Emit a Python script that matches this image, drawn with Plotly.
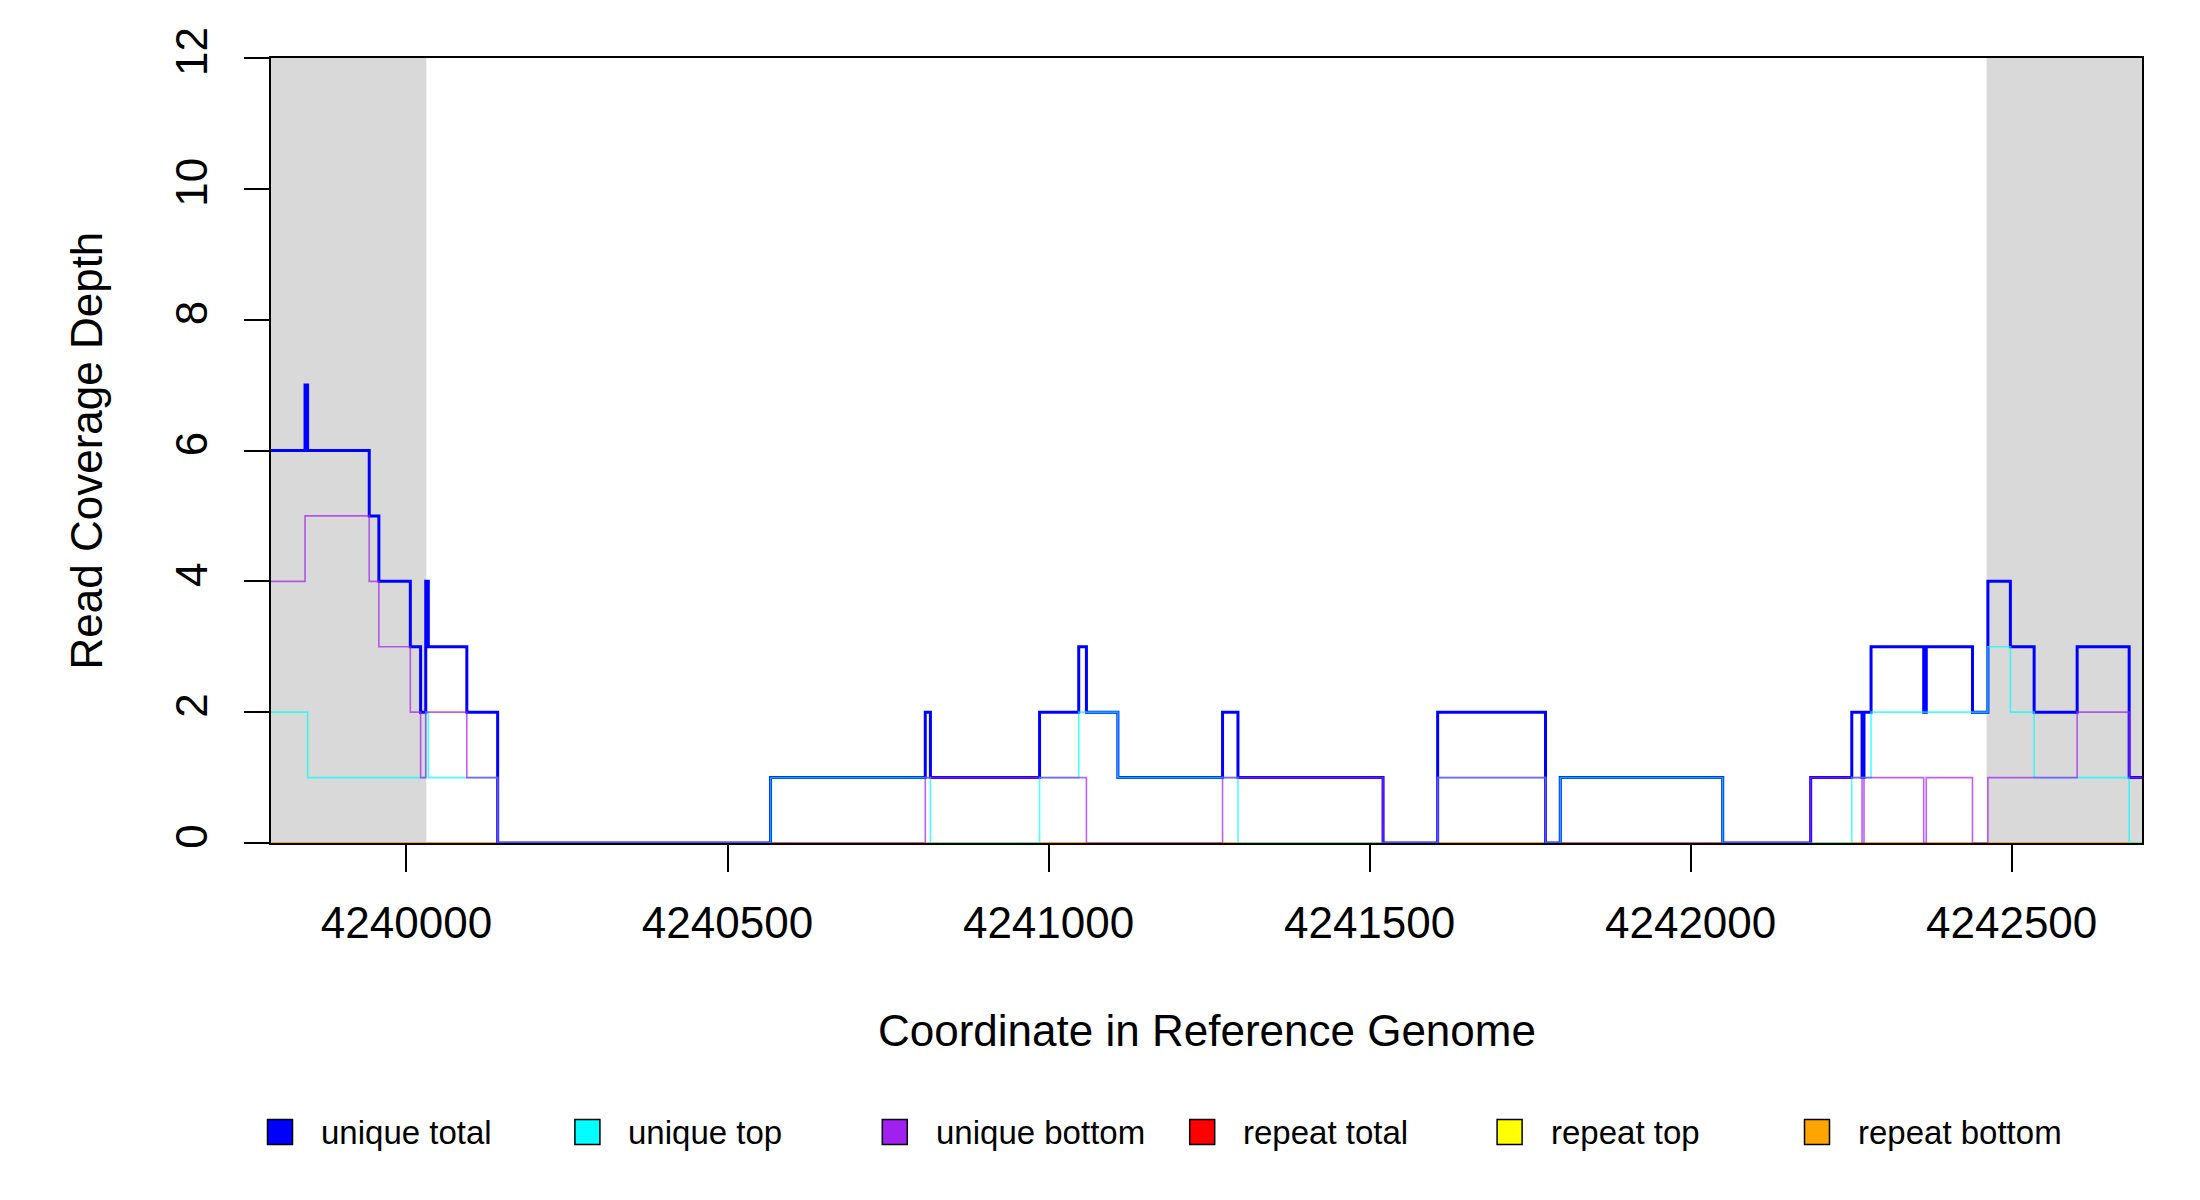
import plotly.graph_objects as go

# axis limits of the window (genome coordinates)
x_start = 4239789
x_end = 4242703

# flanking regions shaded grey
flank_left = [4239789, 4240031]
flank_right = [4242461, 4242703]

# step breakpoints (start of each step) and depth values
unique_total_x = [4239789, 4239842, 4239846, 4239942, 4239957, 4240006, 4240022,
                  4240030, 4240034, 4240094, 4240142, 4240567, 4240808, 4240816,
                  4240986, 4241047, 4241059, 4241108, 4241271, 4241295, 4241521,
                  4241606, 4241774, 4241797, 4242050, 4242187, 4242251, 4242267,
                  4242270, 4242281, 4242363, 4242367, 4242439, 4242463, 4242498,
                  4242535, 4242602, 4242683, 4242703]
unique_total_y = [6, 7, 6, 5, 4, 3, 2, 4, 3, 2, 0, 1, 2, 1, 2, 3, 2, 1, 2, 1, 0,
                  2, 0, 1, 0, 1, 2, 1, 2, 3, 2, 3, 2, 4, 3, 2, 3, 1, 1]

unique_top_x = [4239789, 4239846, 4240030, 4240034, 4240142, 4240567, 4240816,
                4240986, 4241047, 4241108, 4241295, 4241606, 4241774, 4241797,
                4242050, 4242251, 4242281, 4242463, 4242498, 4242535, 4242683,
                4242703]
unique_top_y = [2, 1, 2, 1, 0, 1, 0, 1, 2, 1, 0, 1, 0, 1, 0, 1, 2, 3, 2, 1, 0, 0]

unique_bottom_x = [4239789, 4239842, 4239942, 4239957, 4240006, 4240022, 4240030,
                   4240094, 4240142, 4240808, 4241059, 4241271, 4241521, 4241606,
                   4241774, 4242187, 4242267, 4242270, 4242363, 4242367, 4242439,
                   4242463, 4242602, 4242683, 4242703]
unique_bottom_y = [4, 5, 4, 3, 2, 1, 2, 1, 0, 1, 0, 1, 0, 1, 0, 1, 0, 1, 0, 1, 0,
                   1, 2, 1, 1]

repeat_total_x = [4239789, 4242703]
repeat_total_y = [0, 0]
repeat_top_x = [4239789, 4242703]
repeat_top_y = [0, 0]
repeat_bottom_x = [4239789, 4242703]
repeat_bottom_y = [0, 0]

x_ticks = [4240000, 4240500, 4241000, 4241500, 4242000, 4242500]
y_ticks = [0, 2, 4, 6, 8, 10, 12]

legend_labels = ["unique total", "unique top", "unique bottom",
                 "repeat total", "repeat top", "repeat bottom"]
legend_colors = ["#0000FF", "#00FFFF", "#A020F0", "#FF0000", "#FFFF00", "#FFA500"]

FONT = "Liberation Sans, Arial, sans-serif"

# the page body adds 8px on the top/left, so the figure is 8px smaller
PAD = 8
W, H = 2200 - PAD, 1200 - PAD
left, right, top, bottom = 271 - PAD, 58, 58 - PAD, 357
plot_w = W - left - right
plot_h = H - top - bottom


def px_x(p):
    # page pixel -> paper x
    return (p - PAD - left) / plot_w


def px_y(p):
    # page pixel -> paper y
    return (top + plot_h - (p - PAD)) / plot_h


fig = go.Figure()

# repeats first, uniques on top (semi-transparent like the original)
series = [
    (repeat_total_x, repeat_total_y, "#FF0000", 2, 1.0),
    (repeat_top_x, repeat_top_y, "#FFFF00", 2, 1.0),
    (repeat_bottom_x, repeat_bottom_y, "#FFA500", 2, 1.0),
    (unique_total_x, unique_total_y, "#0000FF", 3, 1.0),
    (unique_top_x, unique_top_y, "#00FFFF", 1.6, 0.7),
    (unique_bottom_x, unique_bottom_y, "#A020F0", 1.6, 0.7),
]
for xs, ys, col, lw, op in series:
    fig.add_trace(go.Scatter(
        x=xs, y=ys, mode="lines",
        line=dict(color=col, width=lw, shape="hv"),
        opacity=op, showlegend=False, hoverinfo="skip"
    ))

# grey flank shading
for x0, x1 in (flank_left, flank_right):
    fig.add_shape(type="rect", xref="x", yref="paper", x0=x0, x1=x1, y0=0, y1=1,
                  fillcolor="#D9D9D9", line=dict(width=0), layer="below")

# axis titles
fig.add_annotation(text="Coordinate in Reference Genome", xref="paper", yref="paper",
                   x=0.5, y=px_y(1030), showarrow=False,
                   xanchor="center", yanchor="middle",
                   font=dict(family=FONT, size=44, color="black"))
fig.add_annotation(text="Read Coverage Depth", xref="paper", yref="paper",
                   x=px_x(86), y=0.5, showarrow=False, textangle=-90,
                   xanchor="center", yanchor="middle",
                   font=dict(family=FONT, size=44, color="black"))

# legend drawn by hand as a single row of boxes
leg_y = px_y(1132)
box = 25
for i, (lab, col) in enumerate(zip(legend_labels, legend_colors)):
    cx = 280 + i * 307.4
    fig.add_shape(type="rect", xref="paper", yref="paper",
                  x0=px_x(cx - box / 2), x1=px_x(cx + box / 2),
                  y0=leg_y - box / 2 / plot_h, y1=leg_y + box / 2 / plot_h,
                  fillcolor=col, line=dict(color="black", width=1.5))
    fig.add_annotation(text=lab, xref="paper", yref="paper",
                       x=px_x(cx + 39), y=leg_y, showarrow=False,
                       xanchor="left", yanchor="middle",
                       font=dict(family=FONT, size=33, color="black"))

fig.update_xaxes(range=[x_start, x_end], tickvals=x_ticks,
                 ticktext=[str(v) for v in x_ticks],
                 ticks="outside", ticklen=27, tickwidth=1.5, tickcolor="black",
                 showline=True, linecolor="black", linewidth=1.5, mirror=True,
                 showgrid=False, zeroline=False, layer="below traces",
                 ticklabelstandoff=13,
                 tickfont=dict(family=FONT, size=44, color="black"))
fig.update_yaxes(range=[0, 12], tickvals=y_ticks, tickangle=-90,
                 ticks="outside", ticklen=25, tickwidth=1.5, tickcolor="black",
                 showline=True, linecolor="black", linewidth=1.5, mirror=True,
                 showgrid=False, zeroline=False, layer="below traces",
                 ticklabelstandoff=20,
                 tickfont=dict(family=FONT, size=44, color="black"))

fig.update_layout(width=W, height=H,
                  margin=dict(l=left, r=right, t=top, b=bottom),
                  plot_bgcolor="white", paper_bgcolor="white",
                  showlegend=False)

fig.write_html("out.html")
